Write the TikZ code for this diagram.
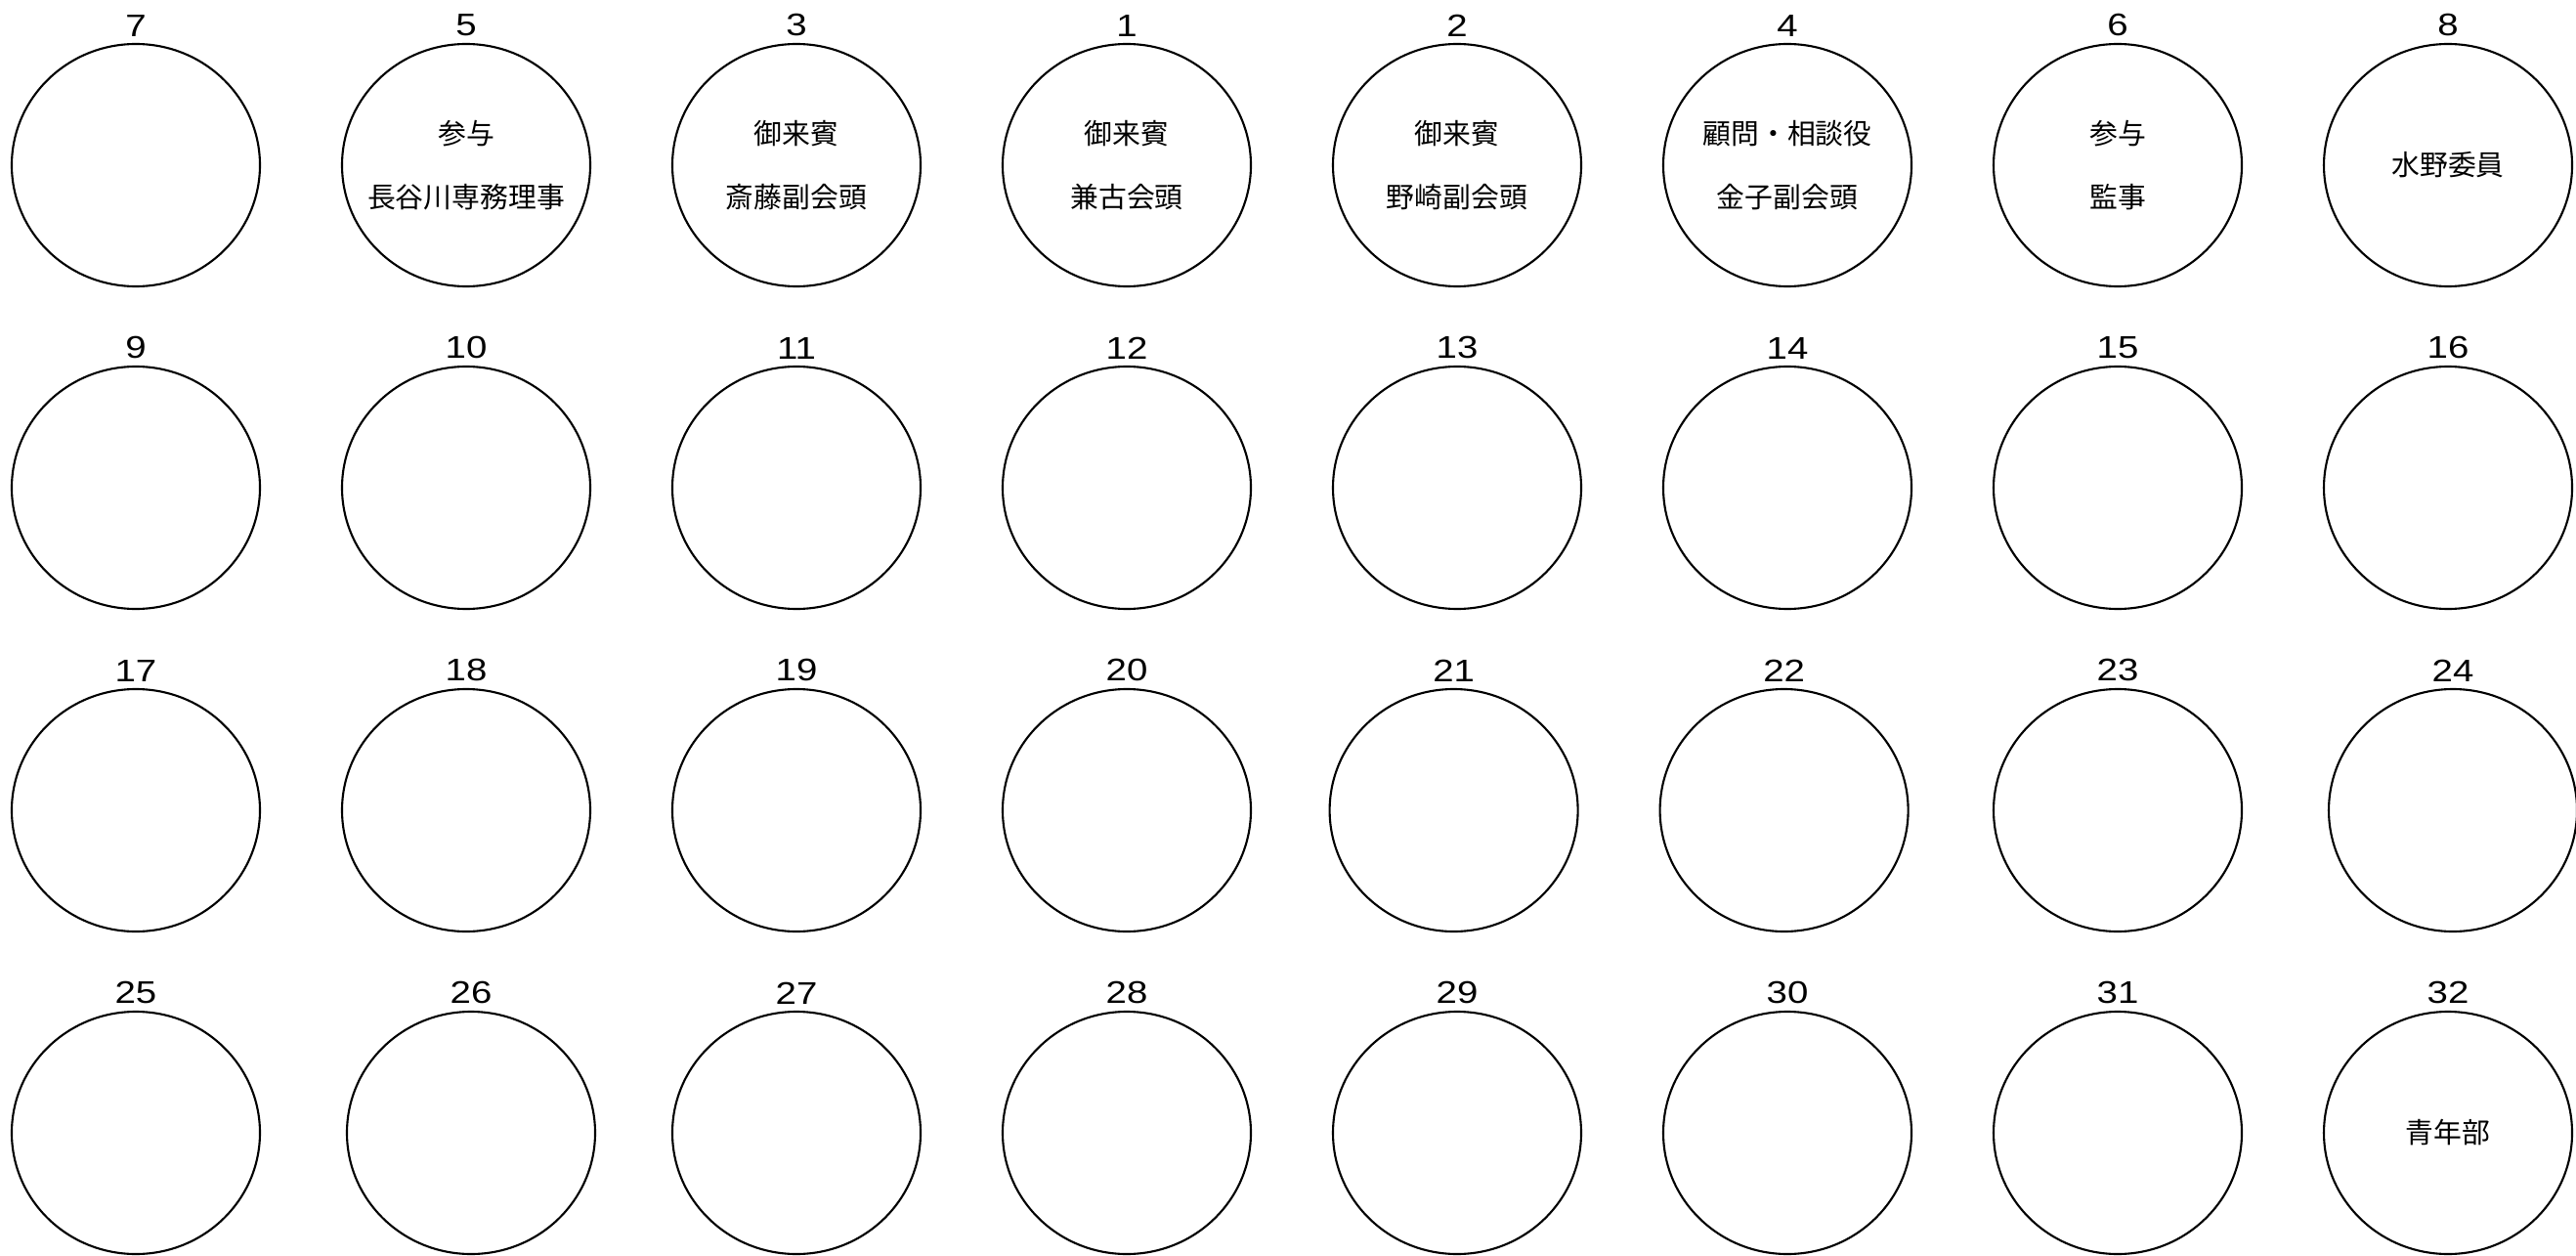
\documentclass[tikz,border=0pt]{standalone}
\usepackage{fontspec}
\newfontfamily\jpfont{Noto Sans CJK JP}
\newfontfamily\numfont[FakeStretch=1.2]{Liberation Sans}
\usetikzlibrary{shapes.geometric, positioning}
\tikzset{
  % posti a sedere
  seat/.style={ellipse,draw=black,line width=0.6pt,minimum width=2.54cm,minimum height=2.48cm,inner sep=0pt},
  seat num/.style={font=\numfont\fontsize{9.1}{11}\selectfont,inner sep=0pt},
  seat name/.style={font=\jpfont\fontsize{8.2}{18.4}\selectfont,align=center,inner sep=0pt}
}

\begin{document}
\begin{tikzpicture}
    \useasboundingbox (0,0) rectangle (26.36,-12.85);
    \def\dx{3.38}
    \def\dy{3.30}
    % seats: number/column/row/shift
    \foreach \n/\c/\r/\o in {7/0/0/0, 5/1/0/0, 3/2/0/0, 1/3/0/0, 2/4/0/0, 4/5/0/0, 6/6/0/0, 8/7/0/0,
      9/0/1/0, 10/1/1/0, 11/2/1/0, 12/3/1/0, 13/4/1/0, 14/5/1/0, 15/6/1/0, 16/7/1/0,
      17/0/2/0, 18/1/2/0, 19/2/2/0, 20/3/2/0, 21/4/2/-0.034, 22/5/2/-0.034, 23/6/2/0, 24/7/2/0.05,
      25/0/3/0, 26/1/3/0.05, 27/2/3/0, 28/3/3/0, 29/4/3/0, 30/5/3/0, 31/6/3/0, 32/7/3/0}{
      \node[seat] (s\n) at ({1.39+\c*\dx+\o},{-1.69-\r*\dy}) {};
      \node[seat num,above=0.6mm of s\n] (n\n) {\n};
    }
    % names
    \node[seat name] (t5) at (s5) {参与\\長谷川専務理事};
    \node[seat name] (t3) at (s3) {御来賓\\斎藤副会頭};
    \node[seat name] (t1) at (s1) {御来賓\\兼古会頭};
    \node[seat name] (t2) at (s2) {御来賓\\野崎副会頭};
    \node[seat name] (t4) at (s4) {顧問・相談役\\金子副会頭};
    \node[seat name] (t6) at (s6) {参与\\監事};
    \node[seat name] (t8) at (s8) {水野委員};
    \node[seat name] (t32) at (s32) {青年部};
\end{tikzpicture}
\end{document}
